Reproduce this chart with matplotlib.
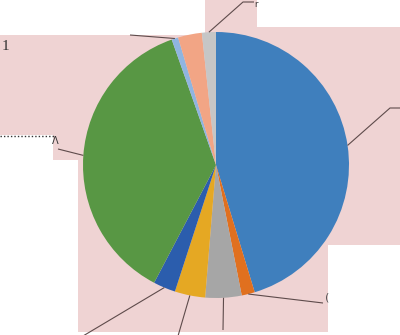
import numpy as np
import matplotlib
matplotlib.use("Agg")
import matplotlib.pyplot as plt
from matplotlib.patches import Polygon

# ---- data ----
slice_values = [45.3, 1.6, 4.4, 3.7, 2.7, 36.9, 0.8, 2.9, 1.7]
slice_colors = ['#3F7FBD', '#E0701F', '#A6A6A6', '#E5A823', '#2B5DAD',
                '#589744', '#8FB5E0', '#F2A585', '#C6C6C6']
# visible label fragments (labels are mostly cut off by the figure edge)
label_texts = ['1', 'Λ', '(', 'r']

# ---- layout (pixel space, y downwards) ----
W, H = 400, 335
cx, cy, R = 216, 165, 133

fig = plt.figure(figsize=(W / 100, H / 100), dpi=100)
ax = fig.add_axes([0, 0, 1, 1])
ax.set_xlim(0, W)
ax.set_ylim(H, 0)
ax.axis('off')

# pink background (union of label/plot area boxes)
bg = Polygon([(0, 35), (205, 35), (205, 0), (257, 0), (257, 27), (400, 27),
              (400, 245), (328, 245), (328, 332), (78, 332), (78, 160),
              (53, 160), (53, 135), (0, 135)],
             closed=True, facecolor='#EFD3D3', edgecolor='none', zorder=0)
ax.add_patch(bg)

wedges, _ = ax.pie(slice_values, colors=slice_colors, center=(cx, cy), radius=R,
                   startangle=-90, counterclock=True, frame=True,
                   wedgeprops=dict(linewidth=0))
for w in wedges:
    w.set_zorder(2)
ax.set_xlim(0, W)
ax.set_ylim(H, 0)
ax.set_aspect('equal')
ax.axis('off')

# leader lines: slice index -> path after the start point on the pie edge
leaders = {
    0: [(390, 108), (400, 108)],
    1: [(323, 303)],
    2: [(223, 330)],
    3: [(178, 336)],
    4: [(83, 336)],
    5: [(58, 149)],
    6: [(130, 35)],
    8: [(243, 2), (254, 2)],
}
total = sum(slice_values)
cum = np.cumsum([0] + slice_values)
line_col = '#5E4B4B'
for i, path in leaders.items():
    mid = np.deg2rad(-90 + 360 * (cum[i] + cum[i + 1]) / 2 / total)
    sx, sy = cx + R * np.cos(mid), cy + R * np.sin(mid)
    xs = [sx] + [p[0] for p in path]
    ys = [sy] + [p[1] for p in path]
    ax.plot(xs, ys, color=line_col, lw=0.8, zorder=3, solid_capstyle='butt')

# dotted line near the left label
ax.plot([0, 55], [136, 136], color='#333333', lw=1.0, ls=(0, (1, 1.5)), zorder=3)

ax.text(2, 46, label_texts[0], fontsize=11, color='#333333', ha='left', va='center',
        family='Liberation Serif', zorder=4)
ax.text(52, 141, label_texts[1], fontsize=7, color='#333333', ha='left', va='center',
        zorder=4)
ax.text(325, 298, label_texts[2], fontsize=8, color='#555555', ha='left', va='center',
        zorder=4)
ax.text(254, 0, label_texts[3], fontsize=6, color='#333333', ha='left', va='top',
        zorder=4)

fig.savefig('out.png', dpi=100, facecolor='white')
